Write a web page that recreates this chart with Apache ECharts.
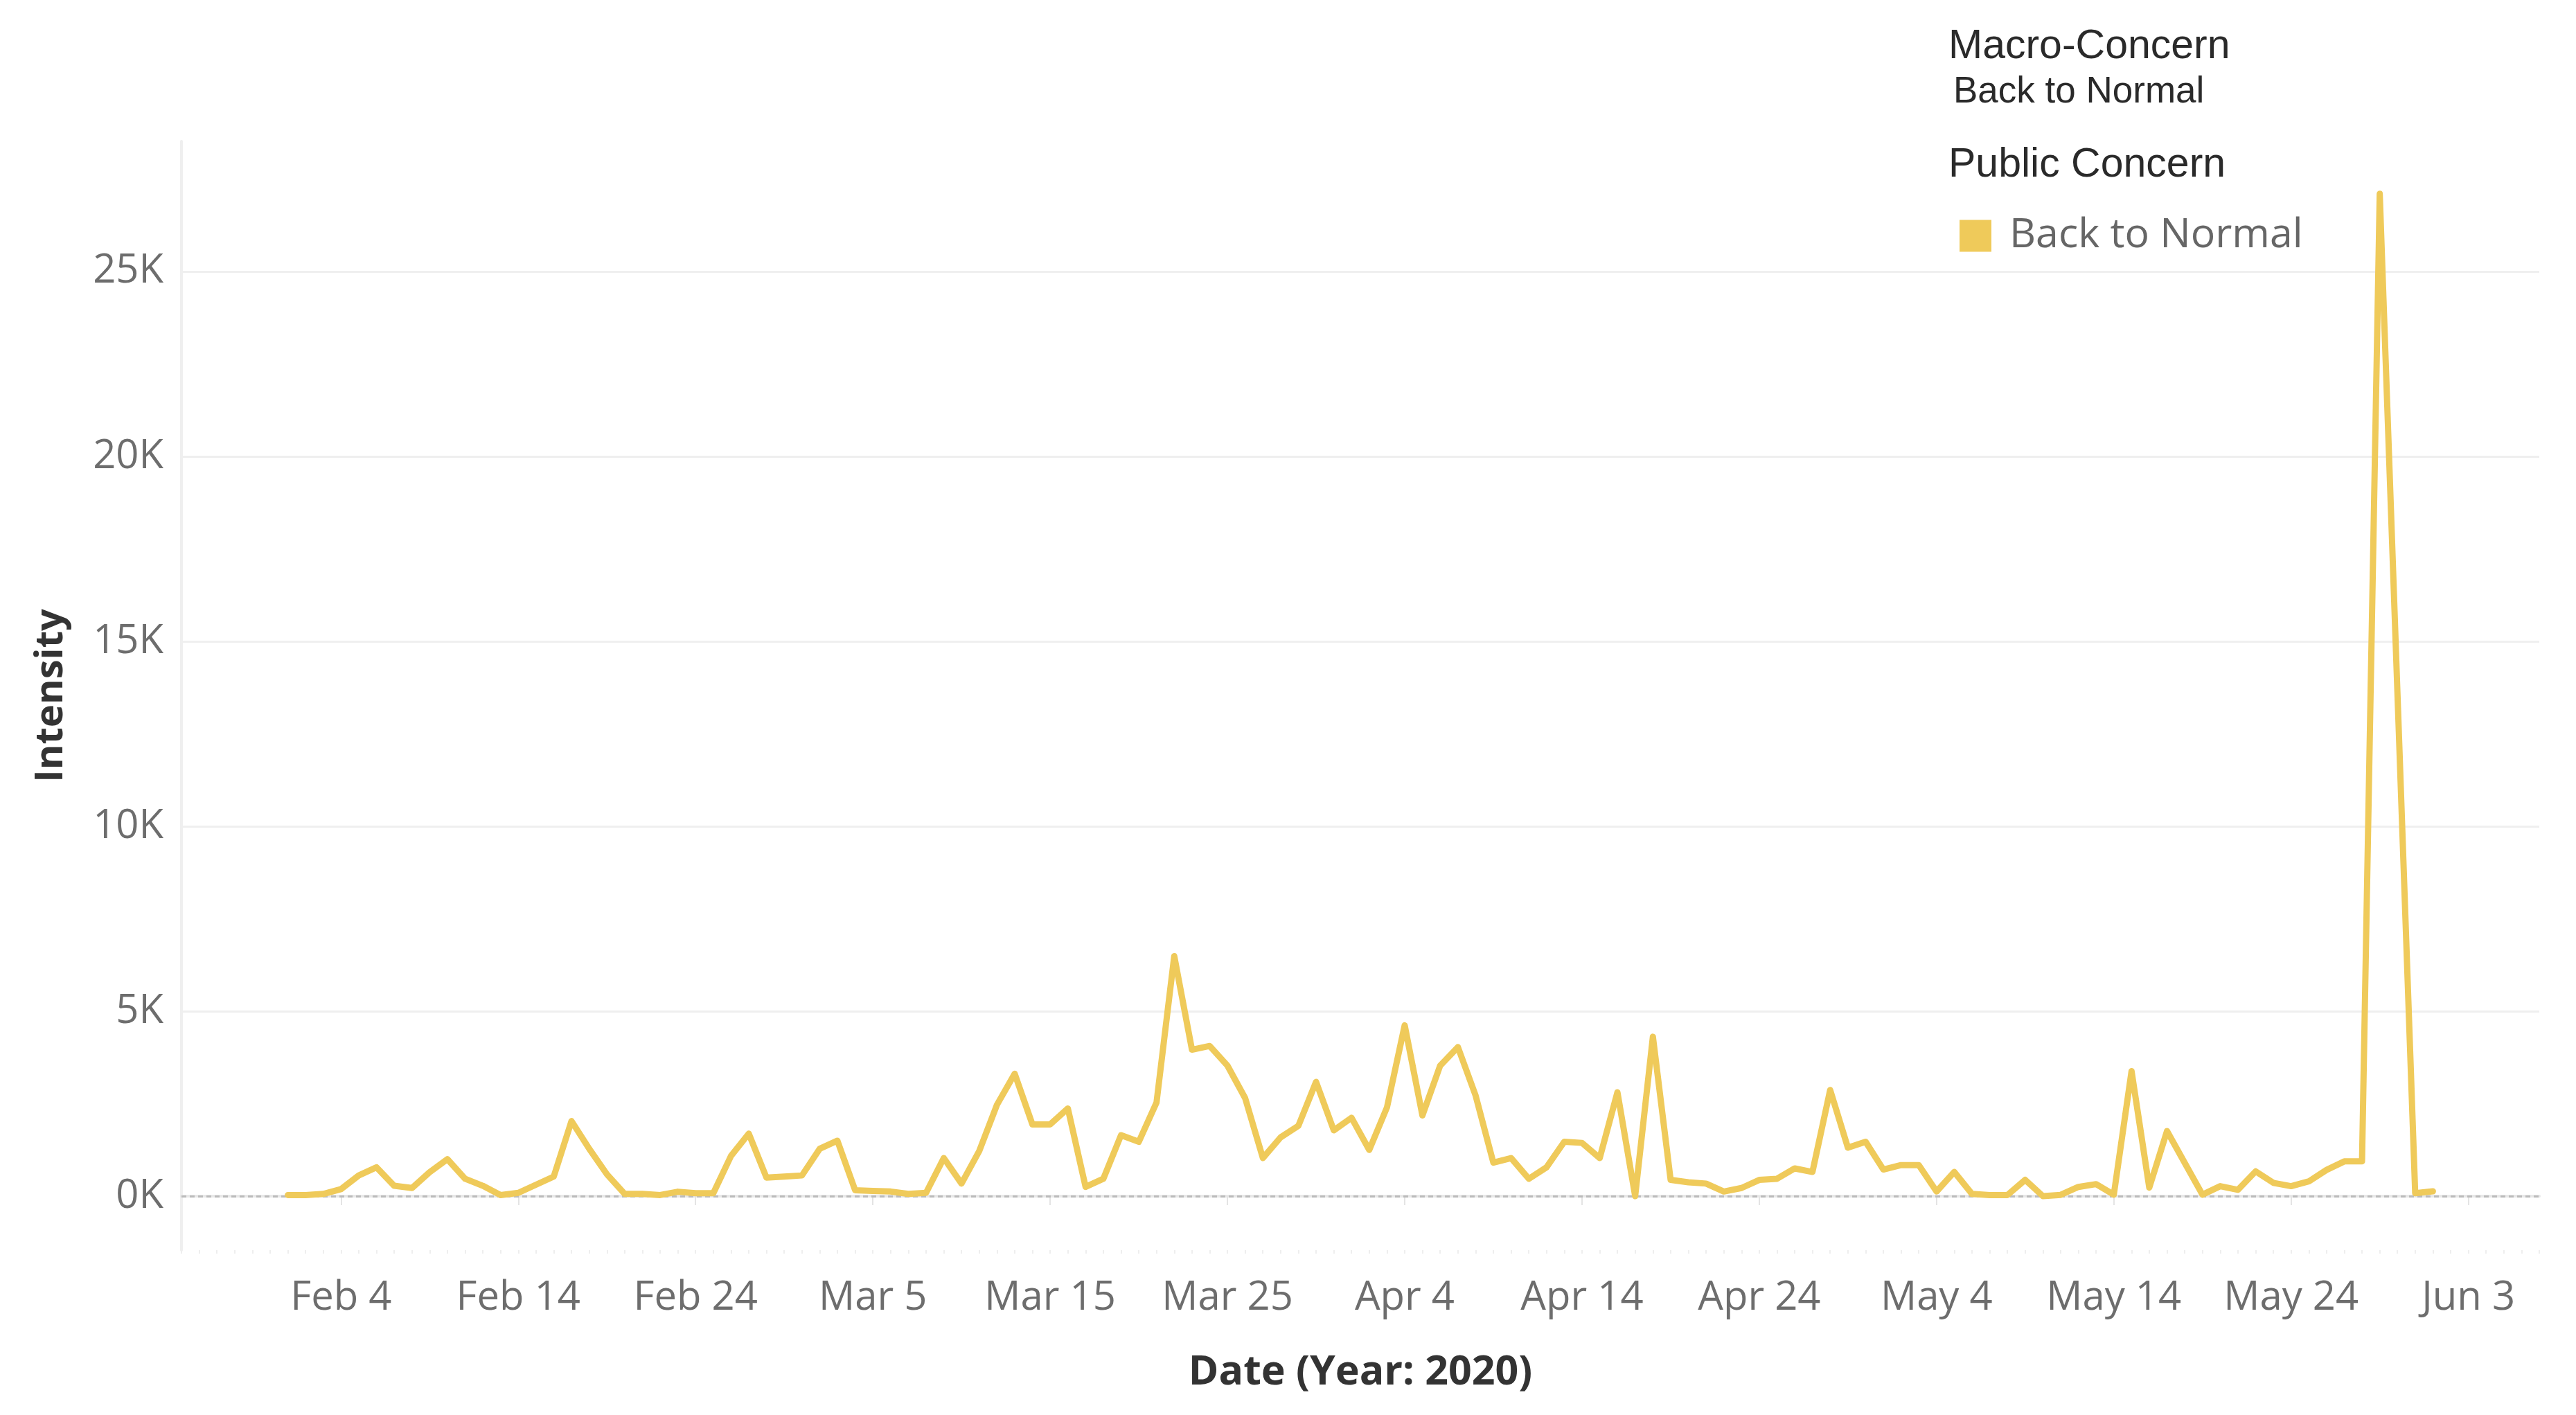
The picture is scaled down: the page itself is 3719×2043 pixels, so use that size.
<!DOCTYPE html>
<html>
<head>
<meta charset="utf-8">
<script src="https://cdn.jsdelivr.net/npm/echarts@6/dist/echarts.min.js"></script>
<style>
html,body{margin:0;padding:0;background:#fff;}
#chart{width:3719px;height:2043px;}
</style>
</head>
<body>
<div id="chart"></div>
<script>
// ---- Data (daily intensity, 2020) ----
const seriesName = 'Back to Normal';
const firstDate = '2020-02-01';           // first day with data
const padBefore = 6;                       // empty axis days before data
const padAfter = 6;                        // empty axis days after data

const febValues = [30, 30, 60, 190, 560, 780, 280, 220, 650, 1000,
  470, 280, 30, 90, 310, 530, 2030, 1280, 590, 60,
  60, 30, 120, 80, 80, 1090, 1690, 500, 530];
const marValues = [560, 1280, 1500, 160, 140, 125, 60, 90, 1030, 340,
  1220, 2470, 3310, 1940, 1940, 2370, 250, 470, 1650, 1470,
  2530, 6490, 3960, 4060, 3530, 2650, 1030, 1590, 1900, 3090, 1780];
const aprValues = [2120, 1250, 2400, 4620, 2180, 3530, 4030, 2720, 905, 1030,
  470, 780, 1470, 1440, 1030, 2810, 0, 4310, 440, 375,
  340, 125, 220, 440, 470, 750, 655, 2870, 1310, 1470];
const mayValues = [720, 840, 840, 125, 655, 60, 30, 30, 440, 0,
  35, 250, 325, 40, 3380, 230, 1760, 900, 40, 270,
  170, 670, 360, 270, 400, 710, 940, 940, 27100, null, 80];
const junValues = [130];

const tickLabels = ['Feb 4', 'Feb 14', 'Feb 24', 'Mar 5', 'Mar 15', 'Mar 25',
  'Apr 4', 'Apr 14', 'Apr 24', 'May 4', 'May 14', 'May 24', 'Jun 3'];

// ---- Build axis categories & series ----
const monthNames = ['Jan','Feb','Mar','Apr','May','Jun','Jul','Aug','Sep','Oct','Nov','Dec'];
const values = [].concat(febValues, marValues, aprValues, mayValues, junValues);
const categories = [];
const seriesData = [];
const start = new Date(firstDate + 'T00:00:00Z');
const total = padBefore + values.length + padAfter;
for (let i = 0; i < total; i++) {
  const d = new Date(start.getTime() + (i - padBefore) * 86400000);
  categories.push(monthNames[d.getUTCMonth()] + ' ' + d.getUTCDate());
  const k = i - padBefore;
  seriesData.push(k >= 0 && k < values.length ? values[k] : null);
}

const isTickLabel = function (idx, val) { return tickLabels.indexOf(categories[idx]) >= 0; };

const chart = echarts.init(document.getElementById('chart'), null, {renderer: 'canvas'});
const lineColor = '#efca5a';
const tickFont = 'Open Sans';

chart.setOption({
  backgroundColor: '#ffffff',
  animation: false,
  title: [
    {text: 'Macro-Concern', left: 2813, top: 38, padding: 0,
     textStyle: {fontFamily: 'Liberation Sans', fontSize: 59, fontWeight: 'normal', color: '#2a2a2a'}},
    {text: 'Back to Normal', left: 2820, top: 107, padding: 0,
     textStyle: {fontFamily: 'Liberation Sans', fontSize: 53, fontWeight: 'normal', color: '#2a2a2a'}},
    {text: 'Public Concern', left: 2813, top: 209, padding: 0,
     textStyle: {fontFamily: 'Liberation Sans', fontSize: 59, fontWeight: 'normal', color: '#2a2a2a'}}
  ],
  legend: {
    data: [seriesName],
    left: 2829, top: 311, padding: 0,
    icon: 'rect', itemWidth: 46, itemHeight: 46,
    textStyle: {fontFamily: tickFont, fontSize: 59, color: '#666666', padding: [0, 0, 0, 21]}
  },
  grid: {left: 262, right: 53, top: 204, bottom: 238, containLabel: false, outerBoundsMode: 'none'},
  xAxis: [{
    type: 'category',
    data: categories,
    boundaryGap: false,
    position: 'bottom',
    axisLine: {show: true, lineStyle: {color: '#e8e8e8', width: 4}},
    axisTick: {show: true, interval: isTickLabel, length: 13, lineStyle: {color: '#e4e4e4', width: 2}},
    axisLabel: {show: true, interval: isTickLabel, margin: 40, fontFamily: tickFont, fontSize: 58, color: '#6d6d6d', hideOverlap: false},
    splitLine: {show: false},
    name: 'Date (Year: 2020)',
    nameLocation: 'middle',
    nameGap: 148,
    nameTextStyle: {fontFamily: tickFont, fontSize: 59, fontWeight: 'bold', color: '#333333'}
  }, {
    type: 'category',
    data: categories,
    boundaryGap: false,
    position: 'bottom',
    axisLine: {show: false},
    axisTick: {show: true, interval: 0, length: 5, lineStyle: {color: '#eeeeee', width: 2}},
    axisLabel: {show: false},
    splitLine: {show: false}
  }],
  yAxis: {
    type: 'value',
    min: -1460,
    max: 28520,
    splitNumber: 6,
    axisLine: {show: true, lineStyle: {color: '#efefef', width: 4}},
    axisTick: {show: false},
    axisLabel: {
      margin: 26, fontFamily: tickFont, fontSize: 58, color: '#6d6d6d',
      showMinLabel: false, showMaxLabel: false,
      formatter: function (v) { return (v % 5000 === 0) ? (v / 1000) + 'K' : ''; }
    },
    splitLine: {show: true, showMinLine: false, showMaxLine: false, lineStyle: {color: '#efefef', width: 3}},
    name: 'Intensity',
    nameLocation: 'middle',
    nameGap: 160,
    nameTextStyle: {fontFamily: tickFont, fontSize: 56, fontWeight: 'bold', color: '#333333'}
  },
  series: [{
    name: seriesName,
    type: 'line',
    xAxisIndex: 0,
    data: seriesData,
    connectNulls: true,
    showSymbol: false,
    symbol: 'none',
    itemStyle: {color: lineColor},
    lineStyle: {color: lineColor, width: 9, join: 'round', cap: 'round'},
    z: 3,
    markLine: {
      silent: true,
      symbol: 'none',
      label: {show: false},
      lineStyle: {color: '#bbbbbb', width: 3, type: [7, 5]},
      data: [{yAxis: 0}],
      z: 2
    }
  }]
});
</script>
</body>
</html>
